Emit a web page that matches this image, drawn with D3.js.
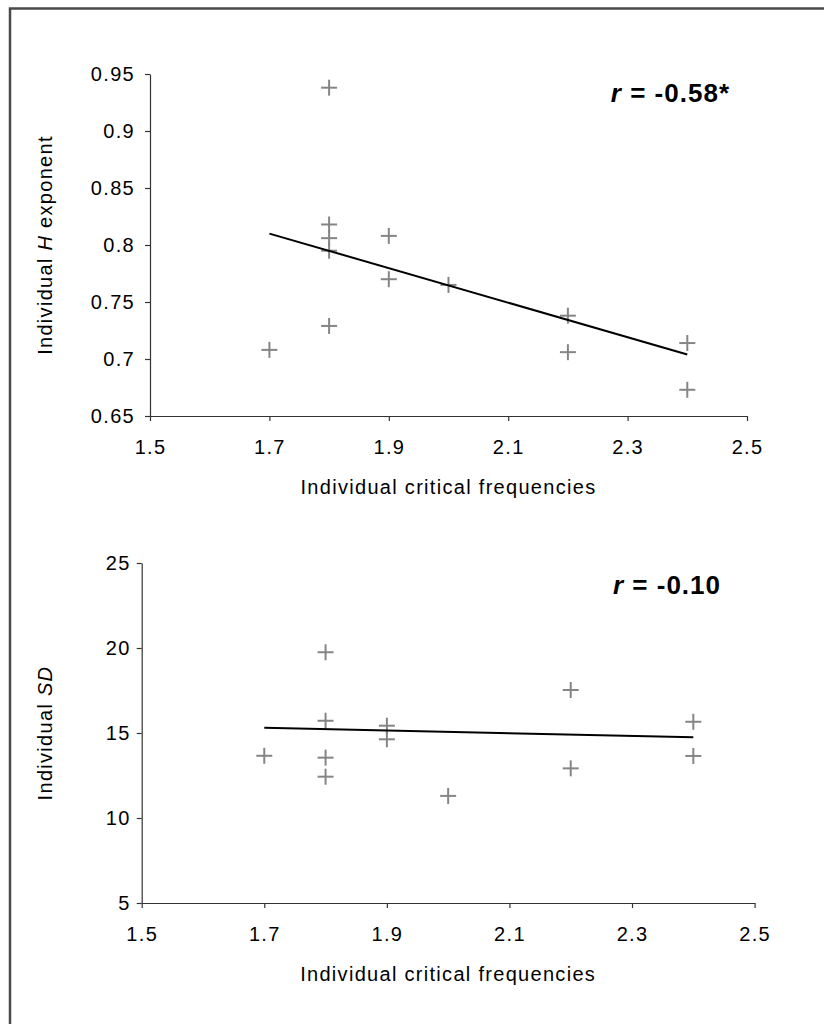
<!DOCTYPE html>
<html><head><meta charset="utf-8">
<script src="https://cdn.jsdelivr.net/npm/d3@7"></script>
<style>body{margin:0;background:#fff}svg{display:block}</style>
</head><body>
<script>
// Top panel data
const topX = [1.7, 1.8, 1.8, 1.8, 1.8, 1.8, 1.9, 1.9, 2.0, 2.2, 2.2, 2.4, 2.4];
const topY = [0.708, 0.938, 0.818, 0.806, 0.795, 0.729, 0.808, 0.770, 0.765, 0.738, 0.706, 0.714, 0.673];
const topTrendX = [1.7, 2.4];
const topTrendY = [0.810, 0.704];
const topYTicks = [0.65, 0.7, 0.75, 0.8, 0.85, 0.9, 0.95];
const topYTickLabels = ["0.65", "0.7", "0.75", "0.8", "0.85", "0.9", "0.95"];
// Bottom panel data
const botX = [1.7, 1.8, 1.8, 1.8, 1.8, 1.9, 1.9, 2.0, 2.2, 2.2, 2.4, 2.4];
const botY = [13.66, 19.75, 15.72, 13.55, 12.43, 15.43, 14.63, 11.3, 17.53, 12.92, 15.66, 13.65];
const botTrendX = [1.7, 2.4];
const botTrendY = [15.31, 14.75];
const botYTicks = [5, 10, 15, 20, 25];
const botYTickLabels = ["5", "10", "15", "20", "25"];
// shared x ticks
const xTicks = [1.5, 1.7, 1.9, 2.1, 2.3, 2.5];
const xTickLabels = ["1.5", "1.7", "1.9", "2.1", "2.3", "2.5"];

const W = 824, H = 1024;
const FONT = "'Liberation Sans', Arial, sans-serif";
const svg = d3.select("body").append("svg").attr("width", W).attr("height", H)
  .style("font-family", FONT);

// frame
svg.append("rect").attr("x", 10).attr("y", 8.5).attr("width", 830).attr("height", 1030)
  .attr("fill", "none").attr("stroke", "#4a4a4a").attr("stroke-width", 2.5);

function panel(cfg) {
  const x = d3.scaleLinear().domain([1.5, 2.5]).range(cfg.xr);
  const y = d3.scaleLinear().domain(cfg.yd).range(cfg.yr);
  const g = svg.append("g");
  const fs = 20, ls = 1.3;
  // x axis
  const xa = g.append("g").attr("transform", `translate(0,${cfg.yr[0]})`)
    .call(d3.axisBottom(x).tickValues(xTicks).tickFormat((d, i) => xTickLabels[i]).tickSize(5).tickSizeOuter(0).tickPadding(19));
  // y axis
  const ya = g.append("g").attr("transform", `translate(${cfg.xr[0]},0)`)
    .call(d3.axisLeft(y).tickValues(cfg.yTicks).tickFormat((d, i) => cfg.yLabels[i]).tickSize(5).tickSizeOuter(0).tickPadding(cfg.ypad));
  [xa, ya].forEach(a => {
    a.selectAll("path,line").attr("stroke", "#333").attr("stroke-width", 1.2);
    a.selectAll("text").attr("font-size", fs).attr("fill", "#000").attr("font-family", FONT)
      .attr("letter-spacing", ls);
  });
  // points
  const pts = cfg.px.map((d, i) => [d, cfg.py[i]]);
  const arm = 8;
  const pg = g.append("g").attr("stroke", "#858585").attr("stroke-width", 2);
  pts.forEach(p => {
    const cx = x(p[0]), cy = y(p[1]);
    pg.append("line").attr("x1", cx - arm).attr("x2", cx + arm).attr("y1", cy).attr("y2", cy);
    pg.append("line").attr("x1", cx).attr("x2", cx).attr("y1", cy - arm).attr("y2", cy + arm);
  });
  // trend line
  const tl = cfg.tx.map((d, i) => [d, cfg.ty[i]]);
  g.append("path").datum(tl).attr("fill", "none").attr("stroke", "#000").attr("stroke-width", 2)
    .attr("d", d3.line().x(d => x(d[0])).y(d => y(d[1])));
  // r label
  const t = g.append("text").attr("x", cfg.rx).attr("y", cfg.ry).attr("text-anchor", "end")
    .attr("font-size", 26).attr("font-weight", "bold").attr("fill", "#000").attr("letter-spacing", 1);
  t.append("tspan").attr("font-style", "italic").text("r");
  t.append("tspan").text(" = " + cfg.rtext);
  // x title
  g.append("text").attr("x", (cfg.xr[0] + cfg.xr[1]) / 2).attr("y", cfg.yr[0] + 78)
    .attr("text-anchor", "middle").attr("font-size", fs).attr("fill", "#000").attr("letter-spacing", ls)
    .text("Individual critical frequencies");
  // y title
  const yt = g.append("text").attr("transform", `translate(${cfg.ytx},${cfg.yty}) rotate(-90)`)
    .attr("text-anchor", "middle").attr("font-size", fs).attr("fill", "#000").attr("letter-spacing", ls);
  yt.append("tspan").text("Individual ");
  yt.append("tspan").attr("font-style", "italic").text(cfg.yvar);
  if (cfg.ysuffix) yt.append("tspan").text(cfg.ysuffix);
}

panel({xr: [150, 747], yd: [0.65, 0.95], yr: [416, 74], yTicks: topYTicks, yLabels: topYTickLabels, ypad: 10,
  px: topX, py: topY, tx: topTrendX, ty: topTrendY, rx: 730, ry: 102, rtext: "-0.58*",
  ytx: 52, yty: 245, yvar: "H", ysuffix: " exponent"});
panel({xr: [141.7, 754.6], yd: [5, 25], yr: [903, 563], yTicks: botYTicks, yLabels: botYTickLabels, ypad: 6,
  px: botX, py: botY, tx: botTrendX, ty: botTrendY, rx: 721, ry: 594, rtext: "-0.10",
  ytx: 52, yty: 733, yvar: "SD", ysuffix: ""});
</script>
</body></html>
